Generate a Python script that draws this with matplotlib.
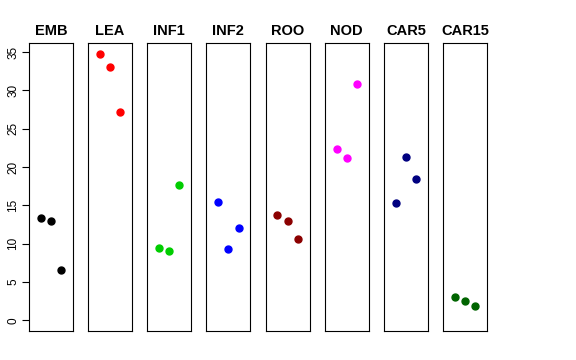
import numpy as np
import matplotlib
matplotlib.use('Agg')
import matplotlib.pyplot as plt

plt.rcParams['font.family'] = ['Liberation Sans', 'DejaVu Sans']

# tissus et valeurs (3 points par tissu)
tissues = ['EMB', 'LEA', 'INF1', 'INF2', 'ROO', 'NOD', 'CAR5', 'CAR15']
values = [
    [13.4, 12.95, 6.6],
    [34.8, 33.0, 27.2],
    [9.4, 9.1, 17.7],
    [15.4, 9.3, 12.0],
    [13.7, 12.9, 10.6],
    [22.4, 21.2, 30.9],
    [15.3, 21.3, 18.5],
    [3.0, 2.5, 1.85],
]
colors = ['black', 'red', '#00CD00', 'blue', '#8B0000', 'magenta', '#000080', '#006400']
yticks = [0, 5, 10, 15, 20, 25, 30, 35]

ymax = max(max(v) for v in values)
pad = 0.04 * ymax

fig = plt.figure(figsize=(5.76, 3.6), dpi=100)
left0 = 29 / 576
w = 44 / 576
step = 59.14 / 576
bottom = 1 - 331 / 360
h = 0.8

for i, (name, vals, col) in enumerate(zip(tissues, values, colors)):
    ax = fig.add_axes([left0 + i * step, bottom, w, h])
    ax.plot([1, 2, 3], vals, 'o', color=col, ms=5, mec=col)
    ax.set_xlim(-0.16, 4.16)
    ax.set_ylim(-pad, ymax + pad)
    ax.set_xticks([])
    ax.set_title(name, fontsize=10.5, fontweight='bold', pad=6)
    for s in ax.spines.values():
        s.set_linewidth(0.8)
    if i == 0:
        ax.set_yticks(yticks)
        ax.tick_params(axis='y', labelsize=8.5, length=5, width=0.8, pad=2)
        for lab in ax.get_yticklabels():
            lab.set_rotation(90)
            lab.set_va('center')
    else:
        ax.set_yticks([])

fig.savefig('out.png', dpi=100)
